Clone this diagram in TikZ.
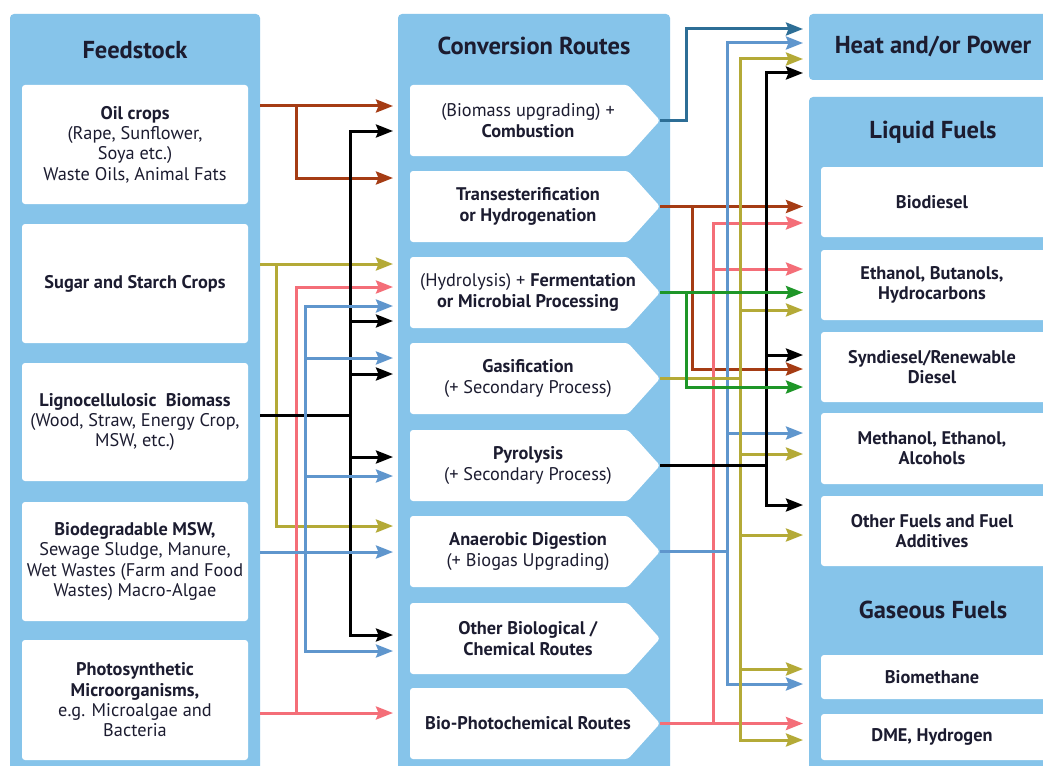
\documentclass[tikz,border=0pt]{standalone}
\usepackage{fontspec}
\setmainfont{PT Sans}
\usetikzlibrary{arrows.meta}
\definecolor{panel}{HTML}{86C4EA}
\definecolor{ink}{HTML}{1C1C30}
\definecolor{cbrn}{HTML}{A53C14}
\definecolor{colv}{HTML}{B4AA37}
\definecolor{cpnk}{HTML}{F46E78}
\definecolor{cblu}{HTML}{5F96CD}
\definecolor{cstl}{HTML}{2D6E96}
\definecolor{cgrn}{HTML}{1E9628}
\tikzset{
  wire/.style={line width=3pt},
  conn/.style={wire, -{Stealth[length=17pt,width=13pt,inset=2.5pt]}},
  txt/.style={align=center, text=ink, font=\fontsize{18.3}{20.3}\selectfont, inner sep=0pt},
  hdr/.style={text=ink, font=\fontsize{24.5}{28}\selectfont\bfseries, inner sep=0pt},
  wbox/.style={fill=white, rounded corners=3pt},
  pbox/.style={fill=panel, rounded corners=4pt},
}
% one conversion route: name, top edge, text
\newcommand\routebox[3]{%
  \fill[white, rounded corners=3pt] (410,#2) -- (628,#2) -- (660,#2+35.5)
    -- (628,#2+71) -- (410,#2+71) -- cycle;
  \node[txt] (#1) at (528,#2+35.5) {#3};
  \coordinate (#1tip) at (660,#2+35.5);}
% one product box on the right: name, top, bottom, text
\newcommand\prodbox[4]{%
  \fill[wbox] (821,#2) rectangle (1060,#3);
  \node[txt,font=\fontsize{18.3}{20.3}\selectfont\bfseries] (#1) at (932,{(#2+#3)/2}) {#4};}
% one feedstock box on the left: name, top, bottom, text
\newcommand\feedbox[4]{%
  \fill[wbox] (22,#2) rectangle (248,#3);
  \node[txt] (#1) at (135,{(#2+#3)/2}) {#4};}
\begin{document}
\begin{tikzpicture}[x=1pt,y=-1pt]
\clip (0,0) rectangle (1043,765);
\fill[white] (0,0) rectangle (1043,765);

% column panels
\fill[pbox] (10,14) rectangle (260,790);
\fill[pbox] (398,14) rectangle (670,790);
\fill[pbox] (809,14) rectangle (1060,80);
\fill[pbox] (809,97) rectangle (1060,790);

\node[hdr] (feedhd) at (135,50) {Feedstock};
\node[hdr] (convhd) at (534,46) {Conversion Routes};
\node[hdr] (heat) at (933,46) {Heat and/or Power};
\node[hdr] (liqhd) at (933,132) {Liquid Fuels};
\node[hdr] (gashd) at (933,610) {Gaseous Fuels};

% feedstocks
\feedbox{oil}{85}{204}{\textbf{Oil crops}\\(Rape, Sunflower,\\Soya etc.)\\Waste Oils, Animal Fats}
\feedbox{sugar}{224}{343}{\textbf{Sugar and Starch Crops}}
\feedbox{ligno}{363}{481}{\textbf{Lignocellulosic\ \ Biomass}\\(Wood, Straw, Energy Crop,\\MSW, etc.)}
\feedbox{msw}{502}{621}{\textbf{Biodegradable MSW,}\\Sewage Sludge, Manure,\\Wet Wastes (Farm and Food\\Wastes) Macro-Algae}
\feedbox{photo}{640}{760}{\textbf{Photosynthetic}\\\textbf{Microorganisms,}\\e.g. Microalgae and\\Bacteria}

% conversion routes
\routebox{comb}{85}{(Biomass upgrading) +\\\textbf{Combustion}}
\routebox{trans}{171}{\textbf{Transesterification}\\\textbf{or Hydrogenation}}
\routebox{ferm}{257}{(Hydrolysis) + \textbf{Fermentation}\\\textbf{or Microbial Processing}}
\routebox{gasif}{343}{\textbf{Gasification}\\(+ Secondary Process)}
\routebox{pyro}{430}{\textbf{Pyrolysis}\\(+ Secondary Process)}
\routebox{anaer}{516}{\textbf{Anaerobic Digestion}\\(+ Biogas Upgrading)}
\routebox{othbio}{603}{\textbf{Other Biological /}\\\textbf{Chemical Routes}}
\routebox{photoc}{688}{\textbf{Bio-Photochemical Routes}}

% products
\prodbox{biod}{167}{237}{Biodiesel}
\prodbox{ethb}{250}{320}{Ethanol, Butanols,\\Hydrocarbons}
\prodbox{synd}{332}{402}{Syndiesel/Renewable\\Diesel}
\prodbox{meth}{413}{484}{Methanol, Ethanol,\\Alcohols}
\prodbox{othf}{496}{566}{Other Fuels and Fuel\\Additives}
\prodbox{biom}{655}{699}{Biomethane}
\prodbox{dme}{714}{760}{DME, Hydrogen}

% feedstock outlets on the panel edge
\coordinate (oilout) at (260,106);
\coordinate (sugout) at (260,264);
\coordinate (ligout) at (260,415);
\coordinate (mswout) at (260,552);
\coordinate (phoout) at (260,713);

% feedstock -> conversion routes
\draw[conn,cbrn] (oilout) -- (393,106);
\draw[conn,cbrn] (296,106) |- (393,178);

\draw[conn,colv] (sugout) -- (393,264);
\draw[conn,colv] (276,264) |- (393,526);

\draw[conn,cpnk] (phoout) -- (393,713);
\draw[conn,cpnk] (296,713) |- (393,287);

\draw[wire,black] (ligout) -- (350,415);
\foreach \y in {131,321,374,457,635}
  \draw[conn,black] (350,415) |- (393,\y);

\draw[conn,cblu] (mswout) -- (393,552);
\foreach \y in {306,358,476,651}
  \draw[conn,cblu] (305,552) |- (393,\y);

% conversion routes -> products
\draw[conn,cstl] (combtip) -- (686,120.5) |- (803,29);

\draw[conn,cbrn] (transtip) -- (803,206.5);
\draw[conn,cbrn] (692,206.5) |- (803,369);

\draw[conn,cpnk] (photoctip) -- (803,723.5);
\foreach \y in {223,269}
  \draw[conn,cpnk] (713,723.5) |- (803,\y);

\draw[wire,cblu] (anaertip) -- (727,551.5);
\foreach \y in {43,433,684}
  \draw[conn,cblu] (727,551.5) |- (803,\y);

\draw[wire,colv] (gasiftip) -- (740,378.5);
\foreach \y in {59,310,454,535,669,740}
  \draw[conn,colv] (740,378.5) |- (803,\y);

\draw[wire,black] (pyrotip) -- (766,465.5);
\foreach \y in {73,355,505}
  \draw[conn,black] (766,465.5) |- (803,\y);

\draw[conn,cgrn] (fermtip) -- (803,292.5);
\draw[conn,cgrn] (686,292.5) |- (803,387);
\end{tikzpicture}
\end{document}
